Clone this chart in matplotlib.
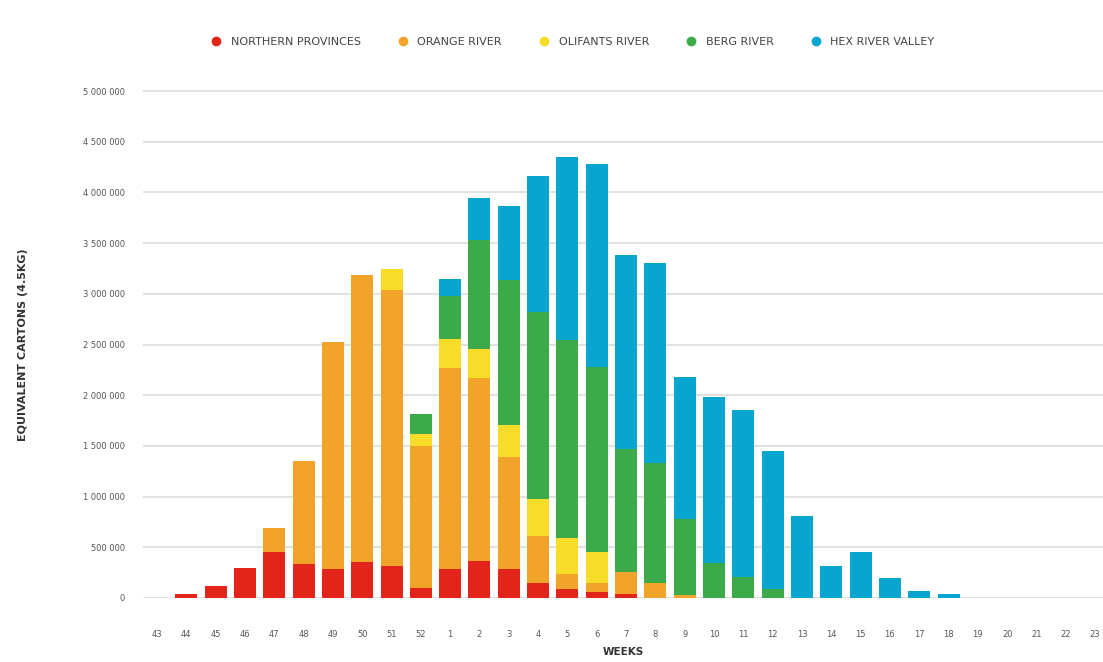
import matplotlib
matplotlib.use("Agg")
import matplotlib.pyplot as plt
from matplotlib.ticker import FuncFormatter, MultipleLocator
from matplotlib.lines import Line2D
import numpy as np

weeks = ["43", "44", "45", "46", "47", "48", "49", "50", "51", "52",
         "1", "2", "3", "4", "5", "6", "7", "8", "9", "10", "11", "12",
         "13", "14", "15", "16", "17", "18", "19", "20", "21", "22", "23"]

northern_provinces = [0, 40000, 120000, 295000, 457000, 335000, 290000, 358000, 316000, 100000,
                      290000, 360000, 290000, 145000, 86000, 62000, 40000, 0, 0, 0, 0, 0,
                      0, 0, 0, 0, 0, 0, 0, 0, 0, 0, 0]
orange_river = [0, 0, 0, 0, 236000, 1015000, 2235000, 2825000, 2725000, 1400000,
                1980000, 1810000, 1100000, 465000, 154000, 83000, 220000, 145000, 30000, 0, 0, 0,
                0, 0, 0, 0, 0, 0, 0, 0, 0, 0, 0]
olifants_river = [0, 0, 0, 0, 0, 0, 0, 0, 200000, 120000,
                  280000, 290000, 320000, 370000, 350000, 305000, 0, 0, 0, 0, 0, 0,
                  0, 0, 0, 0, 0, 0, 0, 0, 0, 0, 0]
berg_river = [0, 0, 0, 0, 0, 0, 0, 0, 0, 190000,
              430000, 1070000, 1430000, 1840000, 1950000, 1830000, 1210000, 1185000, 750000, 350000, 210000, 86000,
              0, 0, 0, 0, 0, 0, 0, 0, 0, 0, 0]
hex_river_valley = [0, 0, 0, 0, 0, 0, 0, 0, 0, 0,
                    170000, 420000, 730000, 1340000, 1810000, 2000000, 1910000, 1970000, 1400000, 1630000, 1640000, 1364000,
                    810000, 320000, 450000, 200000, 72000, 40000, 0, 0, 0, 0, 0]

series = [
    ("NORTHERN PROVINCES", northern_provinces, "#E1251B"),
    ("ORANGE RIVER", orange_river, "#F2A32A"),
    ("OLIFANTS RIVER", olifants_river, "#F8DC2A"),
    ("BERG RIVER", berg_river, "#3DAA49"),
    ("HEX RIVER VALLEY", hex_river_valley, "#08A6CF"),
]

fig = plt.figure(figsize=(11.03, 6.62), dpi=100)
ax = fig.add_axes([0.1296, 0.0967, 0.8704, 0.7734])

x = np.arange(len(weeks))
bottom = np.zeros(len(weeks))
for name, vals, col in series:
    v = np.array(vals, dtype=float)
    ax.bar(x, v, width=0.75, bottom=bottom, color=col, zorder=3, linewidth=0)
    bottom += v

ax.set_xlim(-0.48, 32.27)
ax.set_ylim(0, 5050000)
ax.yaxis.set_major_locator(MultipleLocator(500000))
ax.yaxis.set_major_formatter(FuncFormatter(lambda v, p: f"{int(v):,}".replace(",", " ")))
ax.grid(axis="y", color="#DEDEDE", linewidth=1.3, zorder=0)
ax.set_xticks(x)
ax.set_xticklabels(weeks)
for s in ax.spines.values():
    s.set_visible(False)
ax.tick_params(axis="both", length=0, labelsize=6, labelcolor="#555555")
ax.tick_params(axis="x", pad=23)
ax.tick_params(axis="y", pad=13)

ax.set_xlabel("WEEKS", fontsize=7.5, fontweight="bold", color="#333333", labelpad=6)
fig.text(0.021, 0.48, "EQUIVALENT CARTONS (4.5KG)", rotation=90, fontsize=8,
         fontweight="bold", color="#333333", ha="center", va="center")

handles = [Line2D([0], [0], marker="o", linestyle="none", markersize=6,
                  markerfacecolor=c, markeredgecolor=c) for _, _, c in series]
labels = [n for n, _, _ in series]
leg = fig.legend(handles, labels, loc="center", bbox_to_anchor=(0.519, 0.937), ncol=5,
                 frameon=False, fontsize=8, handletextpad=0.8, columnspacing=3.3,
                 handlelength=1.0)
for t in leg.get_texts():
    t.set_color("#444444")

fig.savefig("out.png", dpi=100)
